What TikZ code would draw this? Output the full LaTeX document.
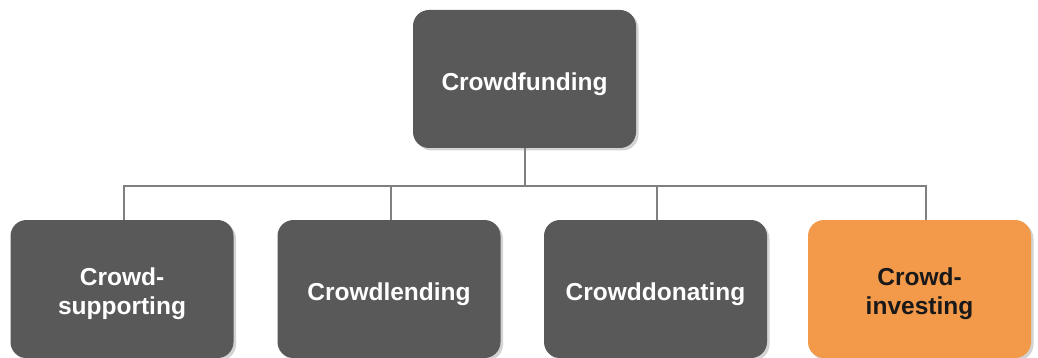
\documentclass[tikz,border=0pt]{standalone}
\usepackage{fontspec}
\setmainfont{Liberation Sans}
\usetikzlibrary{shadows}
\definecolor{boxgray}{HTML}{595959}
\definecolor{boxorange}{HTML}{F39A4A}
\definecolor{linegray}{HTML}{808080}
\tikzset{
  boxnode/.style={rounded corners=16pt, minimum width=223pt, minimum height=138pt,
    inner sep=0pt,
    drop shadow={opacity=0.35, shadow xshift=2.5pt, shadow yshift=-2.5pt}},
  boxtext/.style={align=center, font=\bfseries\fontsize{24.5}{29}\selectfont, yshift=-5pt},
  graybox/.style={boxnode, fill=boxgray},
  orangebox/.style={boxnode, fill=boxorange},
  whitetext/.style={boxtext, text=white},
  darktext/.style={boxtext, text=black!90},
  conn/.style={draw=linegray, line width=2.5pt}
}
\begin{document}
\begin{tikzpicture}[x=1pt,y=-1pt]
\useasboundingbox (0,0) rectangle (1038,358);
\node[graybox, label={[whitetext]center:Crowdfunding}] (top) at (524.5,79) {};
\node[graybox, label={[whitetext]center:Crowd-\\supporting}] (s) at (122,289) {};
\node[graybox, label={[whitetext]center:Crowdlending}] (l) at (389,289) {};
\node[graybox, label={[whitetext]center:Crowddonating}] (d) at (655.5,289) {};
\node[orangebox, label={[darktext]center:Crowd-\\investing}] (i) at (919.5,289) {};
\coordinate (bar) at (525,186);
\coordinate (sj) at ([xshift=2pt]s.north);
\coordinate (lj) at ([xshift=2pt]l.north);
\coordinate (dj) at ([xshift=1.5pt]d.north);
\coordinate (ij) at ([xshift=6.5pt]i.north);
\draw[conn] (top.south -| bar) -- (bar);
\draw[conn] (sj) |- (bar) -| (ij);
\draw[conn] (lj) -- (lj |- bar);
\draw[conn] (dj) -- (dj |- bar);
\end{tikzpicture}
\end{document}
